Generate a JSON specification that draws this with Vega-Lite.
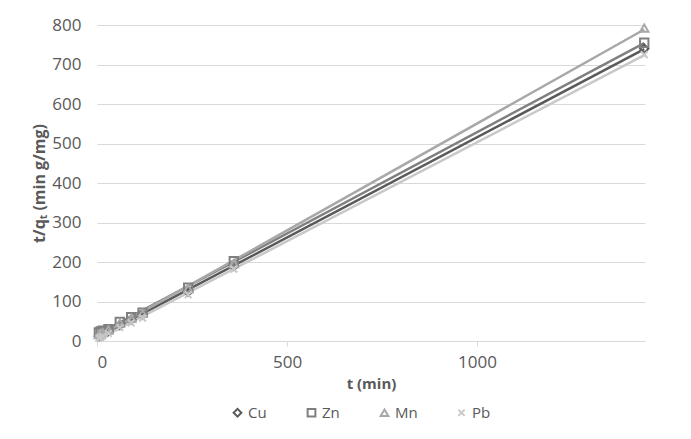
{
  "$schema": "https://vega.github.io/schema/vega-lite/v6.json",
  "width": 548,
  "height": 316,
  "autosize": "none",
  "padding": {"left": 97, "top": 25, "right": 46, "bottom": 98},
  "background": "white",
  "config": {
    "font": "Open Sans",
    "view": {"stroke": null},
    "axis": {"labelColor": "#595959", "labelFontSize": 17, "titleColor": "#595959", "titleFontSize": 15, "titleFontWeight": "bold", "labelFont": "Open Sans", "titleFont": "Open Sans", "labelOverlap": false}
  },
  "data": {"values": [
    {"t": 5, "y": 12, "metal": "Cu"}, {"t": 10, "y": 15, "metal": "Cu"}, {"t": 15, "y": 18, "metal": "Cu"}, {"t": 30, "y": 25, "metal": "Cu"}, {"t": 60, "y": 40, "metal": "Cu"}, {"t": 90, "y": 54, "metal": "Cu"}, {"t": 120, "y": 67, "metal": "Cu"}, {"t": 240, "y": 125, "metal": "Cu"}, {"t": 360, "y": 190, "metal": "Cu"}, {"t": 1440, "y": 740, "metal": "Cu"},
    {"t": 5, "y": 22, "metal": "Zn"}, {"t": 10, "y": 24, "metal": "Zn"}, {"t": 15, "y": 26, "metal": "Zn"}, {"t": 30, "y": 30, "metal": "Zn"}, {"t": 60, "y": 48, "metal": "Zn"}, {"t": 90, "y": 60, "metal": "Zn"}, {"t": 120, "y": 72, "metal": "Zn"}, {"t": 240, "y": 135, "metal": "Zn"}, {"t": 360, "y": 202, "metal": "Zn"}, {"t": 1440, "y": 755, "metal": "Zn"},
    {"t": 5, "y": 16, "metal": "Mn"}, {"t": 10, "y": 19, "metal": "Mn"}, {"t": 15, "y": 21, "metal": "Mn"}, {"t": 30, "y": 28, "metal": "Mn"}, {"t": 60, "y": 45, "metal": "Mn"}, {"t": 90, "y": 58, "metal": "Mn"}, {"t": 120, "y": 70, "metal": "Mn"}, {"t": 240, "y": 132, "metal": "Mn"}, {"t": 360, "y": 196, "metal": "Mn"}, {"t": 1440, "y": 792, "metal": "Mn"},
    {"t": 5, "y": 7, "metal": "Pb"}, {"t": 10, "y": 9, "metal": "Pb"}, {"t": 15, "y": 12, "metal": "Pb"}, {"t": 30, "y": 19, "metal": "Pb"}, {"t": 60, "y": 34, "metal": "Pb"}, {"t": 90, "y": 46, "metal": "Pb"}, {"t": 120, "y": 58, "metal": "Pb"}, {"t": 240, "y": 117, "metal": "Pb"}, {"t": 360, "y": 182, "metal": "Pb"}, {"t": 1440, "y": 725, "metal": "Pb"}
  ]},
  "encoding": {
    "x": {"field": "t", "type": "quantitative", "title": "t (min)", "scale": {"domain": [0, 1442], "nice": false},
      "axis": {"values": [0, 500, 1000], "format": "d", "grid": false, "domainColor": "#d9d9d9", "tickColor": "#d9d9d9", "tickSize": 5, "labelPadding": 8, "titlePadding": 6}},
    "y": {"field": "y", "type": "quantitative", "title": "t/qₜ (min g/mg)", "scale": {"domain": [0, 800], "nice": false},
      "axis": {"values": [0, 100, 200, 300, 400, 500, 600, 700, 800], "domain": false, "ticks": false, "gridColor": "#d9d9d9", "gridWidth": 1, "labelPadding": 16, "titlePadding": 4, "titleFontSize": 16}},
    "color": {"field": "metal", "type": "nominal", "scale": {"domain": ["Cu", "Zn", "Mn", "Pb"], "range": ["#5a5a5a", "#7f7f7f", "#a8a8a8", "#c8c8c8"]},
      "legend": {"orient": "none", "legendX": 133, "legendY": 380, "direction": "horizontal", "columns": 4, "columnPadding": 36, "title": null, "labelFontSize": 15, "labelColor": "#595959", "labelFont": "Open Sans", "symbolStrokeWidth": 2, "symbolSize": 60, "symbolFillColor": "white", "labelOffset": 3}}
  },
  "layer": [
    {
      "transform": [{"regression": "y", "on": "t", "groupby": ["metal"], "extent": [5, 1440]}],
      "mark": {"type": "line", "strokeWidth": 2.5}
    },
    {
      "mark": {"type": "point", "filled": false, "strokeWidth": 2, "size": 70, "opacity": 1},
      "encoding": {
        "shape": {"field": "metal", "type": "nominal", "scale": {"domain": ["Cu", "Zn", "Mn", "Pb"], "range": ["diamond", "square", "triangle-up", "M-0.8,-0.8L0.8,0.8M-0.8,0.8L0.8,-0.8"]}}
      }
    }
  ]
}
